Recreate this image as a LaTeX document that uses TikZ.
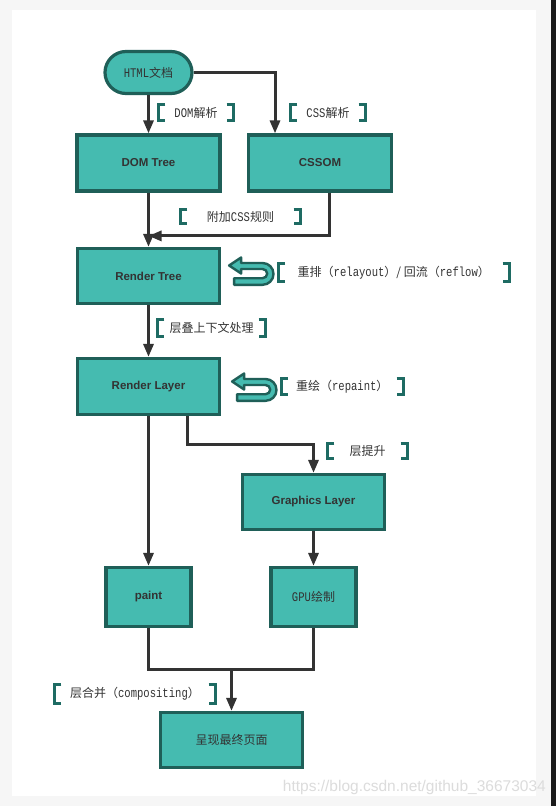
\documentclass[tikz,border=0pt]{standalone}
\usepackage{fontspec}
\setmainfont{Liberation Sans}
\setsansfont{Liberation Sans}
\setmonofont[Scale=1.1, FakeStretch=0.8]{Liberation Mono}
\newfontfamily\cjk{Noto Sans CJK SC}
\usetikzlibrary{positioning,arrows.meta}

\definecolor{boxfill}{HTML}{45BBB0}
\definecolor{boxline}{HTML}{1F5F58}
\definecolor{tagline}{HTML}{1E6B63}
\definecolor{arrowline}{HTML}{333333}
\definecolor{textdark}{HTML}{333333}
\definecolor{pagegray}{HTML}{F6F6F6}
\definecolor{edgedark}{HTML}{1A1A1A}
\definecolor{markgray}{HTML}{DCDCDC}

\begin{document}
\begin{tikzpicture}[x=1pt, y=1pt,
    box/.style={rectangle, draw=boxline, fill=boxfill, line width=3.2pt, minimum width=142pt, minimum height=56pt, text=textdark, font=\bfseries\fontsize{11.5}{13}\selectfont},
    smallbox/.style={box, minimum width=85pt, minimum height=59pt},
    startbox/.style={box, rounded corners=21pt, minimum width=87pt, minimum height=42pt},
    cjktext/.style={font=\cjk\fontsize{12}{14}\selectfont},
    tag/.style={cjktext, text=textdark, inner sep=0pt},
    bracket/.style={draw=tagline, line width=3pt},
    flow/.style={draw=arrowline, line width=3pt, -{Triangle[length=13pt, width=10pt]}},
    link/.style={draw=arrowline, line width=3pt},
    icon/.style={draw=boxline, fill=boxfill, line width=2.4pt, line join=round},
    returnicon/.pic={
        \draw[icon] (0,0) -- (12,8) -- (12,2.5) -- (33.5,2.5) arc[start angle=90, end angle=-90, radius=10.9pt]
            -- (5,-19.3) -- (5,-12.7) -- (33.5,-12.7) arc[start angle=-90, end angle=90, radius=4.6pt]
            -- (12,-3.5) -- (12,-8) -- cycle;
    }
]
\useasboundingbox (0,0) rectangle (556,-806);

% Page
\fill[pagegray] (0,0) rectangle (556,-806);
\fill[white] (12,-10) rectangle (536,-796);
\fill[edgedark] (551,0) rectangle (556,-806);

% Boxes
\node[startbox, cjktext] (html) at (148.5,-72.5) {\texttt{HTML}文档};
\node[box, minimum width=143pt] (dom) at (148.5,-163) {DOM Tree};
\node[box, minimum width=143pt] (cssom) at (320,-163) {CSSOM};
\node[box, minimum height=55pt] (rtree) at (148.5,-276) {Render Tree};
\node[box] (rlayer) at (148.5,-386.5) {Render Layer};
\node[box, minimum height=55pt] (glayer) at (313.5,-502) {Graphics Layer};
\node[smallbox] (paint) at (148.5,-597) {paint};
\node[smallbox, cjktext] (gpu) at (313.5,-597) {\texttt{GPU}绘制};
\node[box, cjktext, minimum height=55pt] (final) at (231.5,-740) {呈现最终页面};

% Labels
\node[tag, minimum width=75pt, minimum height=16pt] (domlbl) at (196,-112.5) {\texttt{DOM}解析};
\node[tag, minimum width=75pt, minimum height=16pt] (csslbl) at (328,-112.5) {\texttt{CSS}解析};
\node[tag, minimum width=120pt, minimum height=14pt] (attlbl) at (240.5,-216.5) {附加\texttt{CSS}规则};
\node[tag, minimum width=231pt, minimum height=18pt, right=57pt of rtree, yshift=3.5pt] (reflowlbl) {重排（\texttt{relayout}）/ 回流（\texttt{reflow}）};
\node[tag, minimum width=108pt, minimum height=17pt] (stacklbl) at (211.5,-328) {层叠上下文处理};
\node[tag, minimum width=122pt, minimum height=15pt, right=60pt of rlayer] (repaintlbl) {重绘（\texttt{repaint}）};
\node[tag, minimum width=80pt, minimum height=15pt] (promlbl) at (367.5,-451) {层提升};
\node[tag, minimum width=161pt, minimum height=19pt] (complbl) at (135,-694) {层合并（\texttt{compositing}）};

\foreach \l in {domlbl,csslbl,attlbl,reflowlbl,stacklbl,repaintlbl,promlbl,complbl}{
    \draw[bracket] ([xshift=7pt]\l.north west) -| (\l.south west) -- ++(7,0);
    \draw[bracket] ([xshift=-7pt]\l.north east) -| (\l.south east) -- ++(-7,0);
}

% Return icons
\pic at ([xshift=8pt, yshift=10.5pt]rtree.east) {returnicon};
\pic at ([xshift=11pt, yshift=5pt]rlayer.east) {returnicon};

% Arrows
\draw[flow] (html) -- (dom);
\draw[flow] (html.east) -| ([xshift=-45pt]cssom.north);
\draw[flow] (dom) -- (rtree);
\draw[flow] ([xshift=9pt]cssom.south) |- ([yshift=11pt]rtree.north);
\draw[flow] (rtree) -- (rlayer);
\draw[flow] (rlayer) -- (paint);
\draw[flow] ([xshift=38.5pt]rlayer.south) -- ++(0,-28) -| (glayer.north);
\draw[flow] (glayer) -- (gpu);
\coordinate (merge) at (231.5,-669);
\draw[link] (paint.south) |- (merge) -| (gpu.south);
\draw[flow] (merge) -- (final);

% Watermark
\node[anchor=east, inner sep=0pt, text=markgray, font=\fontsize{15.5}{17}\selectfont] (mark) at (546,-787) {https://blog.csdn.net/github\_36673034};

\end{tikzpicture}
\end{document}
